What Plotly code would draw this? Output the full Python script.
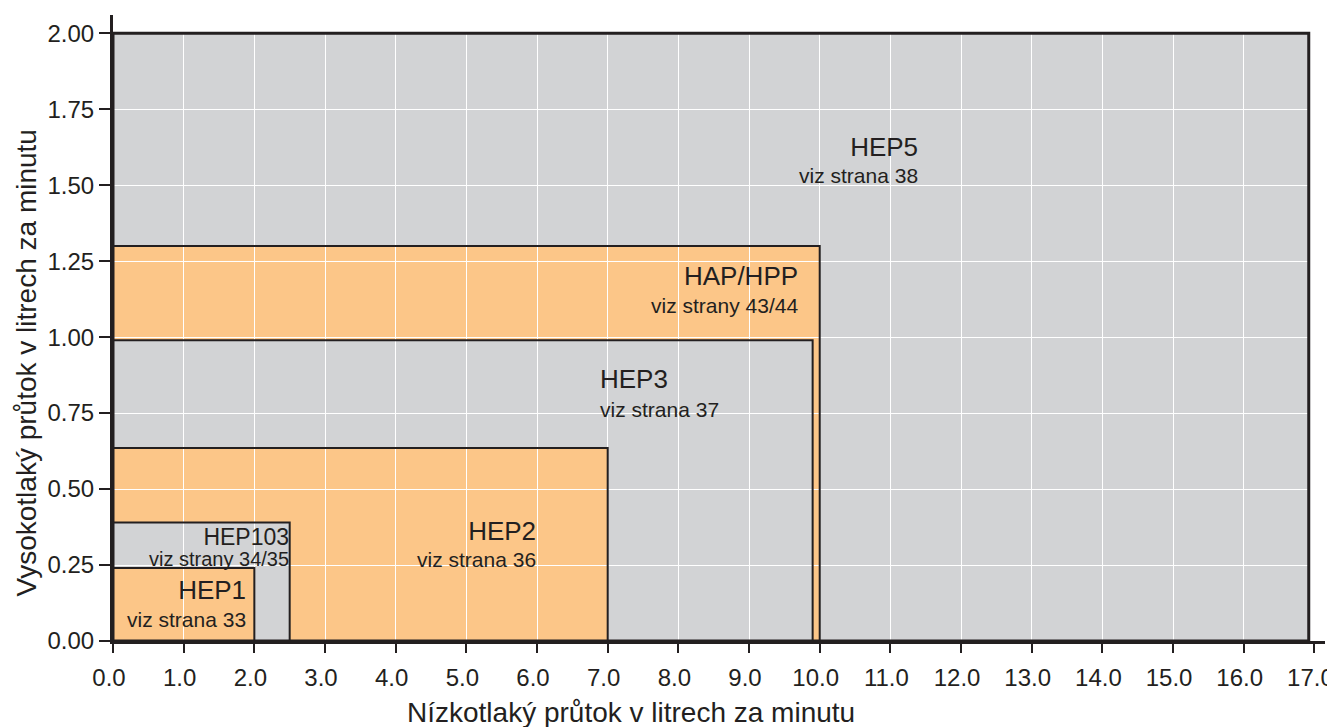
import plotly.graph_objects as go

# ---- data ----
products = ["HEP5", "HAP/HPP", "HEP3", "HEP2", "HEP103", "HEP1"]
low_pressure_max = [16.92, 10.0, 9.9, 7.0, 2.5, 2.0]      # x extent (l/min)
high_pressure_max = [2.0, 1.3, 0.99, 0.635, 0.39, 0.24]   # y extent (l/min)
page_refs = ["viz strana 38", "viz strany 43/44", "viz strana 37",
             "viz strana 36", "viz strany 34/35", "viz strana 33"]
x_ticks = [float(i) for i in range(0, 18)]
y_ticks = [0.0, 0.25, 0.5, 0.75, 1.0, 1.25, 1.5, 1.75, 2.0]
x_title = "Nízkotlaký průtok v litrech za minutu"
y_title = "Vysokotlaký průtok v litrech za minutu"

# ---- styling / label placement ----
GRAY = "#d2d3d5"
ORANGE = "#fcc688"
DARK = "#231f20"
FONT = "Liberation Sans, Arial, sans-serif"
fills = [GRAY, ORANGE, GRAY, ORANGE, GRAY, ORANGE]
# (x, y_center, anchor, name_size, ref_size, base_size)
label_pos = [
    (11.41, 1.585, "right", 26, 21, 21),
    (9.71, 1.158, "right", 26, 21, 21.5),
    (6.87, 0.817, "left", 26, 21, 22),
    (6.0, 0.32, "right", 26, 21, 21),
    (2.5, 0.31, "right", 23, 20, 16),
    (1.895, 0.125, "right", 26, 21, 21.5),
]

fig = go.Figure()
# invisible trace so axes exist
fig.add_trace(go.Scatter(x=[0], y=[0], mode="markers", marker=dict(opacity=0),
                         hoverinfo="skip", showlegend=False))

shapes = []
for xm, ym, fc in zip(low_pressure_max, high_pressure_max, fills):
    shapes.append(dict(type="rect", xref="x", yref="y", x0=0, y0=0, x1=xm, y1=ym,
                       fillcolor=fc, line=dict(width=0), layer="below"))
for i, (xm, ym) in enumerate(zip(low_pressure_max, high_pressure_max)):
    shapes.append(dict(type="rect", xref="x", yref="y", x0=0, y0=0, x1=xm, y1=ym,
                       fillcolor="rgba(0,0,0,0)",
                       line=dict(width=3 if i == 0 else 2, color=DARK), layer="above"))

annotations = []
for name, ref, (lx, ly, xa, s1, s2, sb) in zip(products, page_refs, label_pos):
    txt = (f"<span style='font-size:{s1}px'>{name}</span><br>"
           f"<span style='font-size:{s2}px'>{ref}</span>")
    annotations.append(dict(x=lx, y=ly, xref="x", yref="y", text=txt, showarrow=False,
                            xanchor=xa, yanchor="middle", align=xa, borderpad=0,
                            font=dict(family=FONT, size=sb, color=DARK)))

# axis titles (placed as in the reference, not centred on the plot)
annotations.append(dict(x=0.4274, y=-0.1135, xref="paper", yref="paper", text=x_title,
                        showarrow=False, xanchor="center", yanchor="middle", borderpad=0,
                        font=dict(family=FONT, size=28, color=DARK)))
annotations.append(dict(x=-0.0710, y=0.4449, xref="paper", yref="paper", text=y_title,
                        showarrow=False, xanchor="center", yanchor="middle", textangle=-90,
                        borderpad=0, font=dict(family=FONT, size=28, color=DARK)))

fig.update_layout(
    width=1327, height=719,
    margin=dict(l=105, r=10, t=7, b=86),
    paper_bgcolor="white", plot_bgcolor="white",
    font=dict(family=FONT, color=DARK),
    shapes=shapes, annotations=annotations,
    showlegend=False,
)
fig.update_xaxes(
    range=[0, 17.15], tickvals=x_ticks, tickformat=".1f",
    showgrid=True, gridcolor="white", gridwidth=1,
    showline=True, linecolor=DARK, linewidth=3,
    ticks="outside", ticklen=9, tickcolor=DARK, tickwidth=2,
    tickfont=dict(size=24, family=FONT, color=DARK),
    ticklabeloverflow="allow", ticklabelshift=-4, ticklabelstandoff=4,
    zeroline=False, automargin=False,
)
fig.update_yaxes(
    range=[0, 2.06], tickvals=y_ticks, tickformat=".2f",
    showgrid=True, gridcolor="white", gridwidth=1,
    showline=True, linecolor=DARK, linewidth=3,
    ticks="outside", ticklen=11, tickcolor=DARK, tickwidth=2,
    tickfont=dict(size=24, family=FONT, color=DARK),
    ticklabeloverflow="allow",
    zeroline=False, automargin=False,
)

fig.write_html("out.html")
